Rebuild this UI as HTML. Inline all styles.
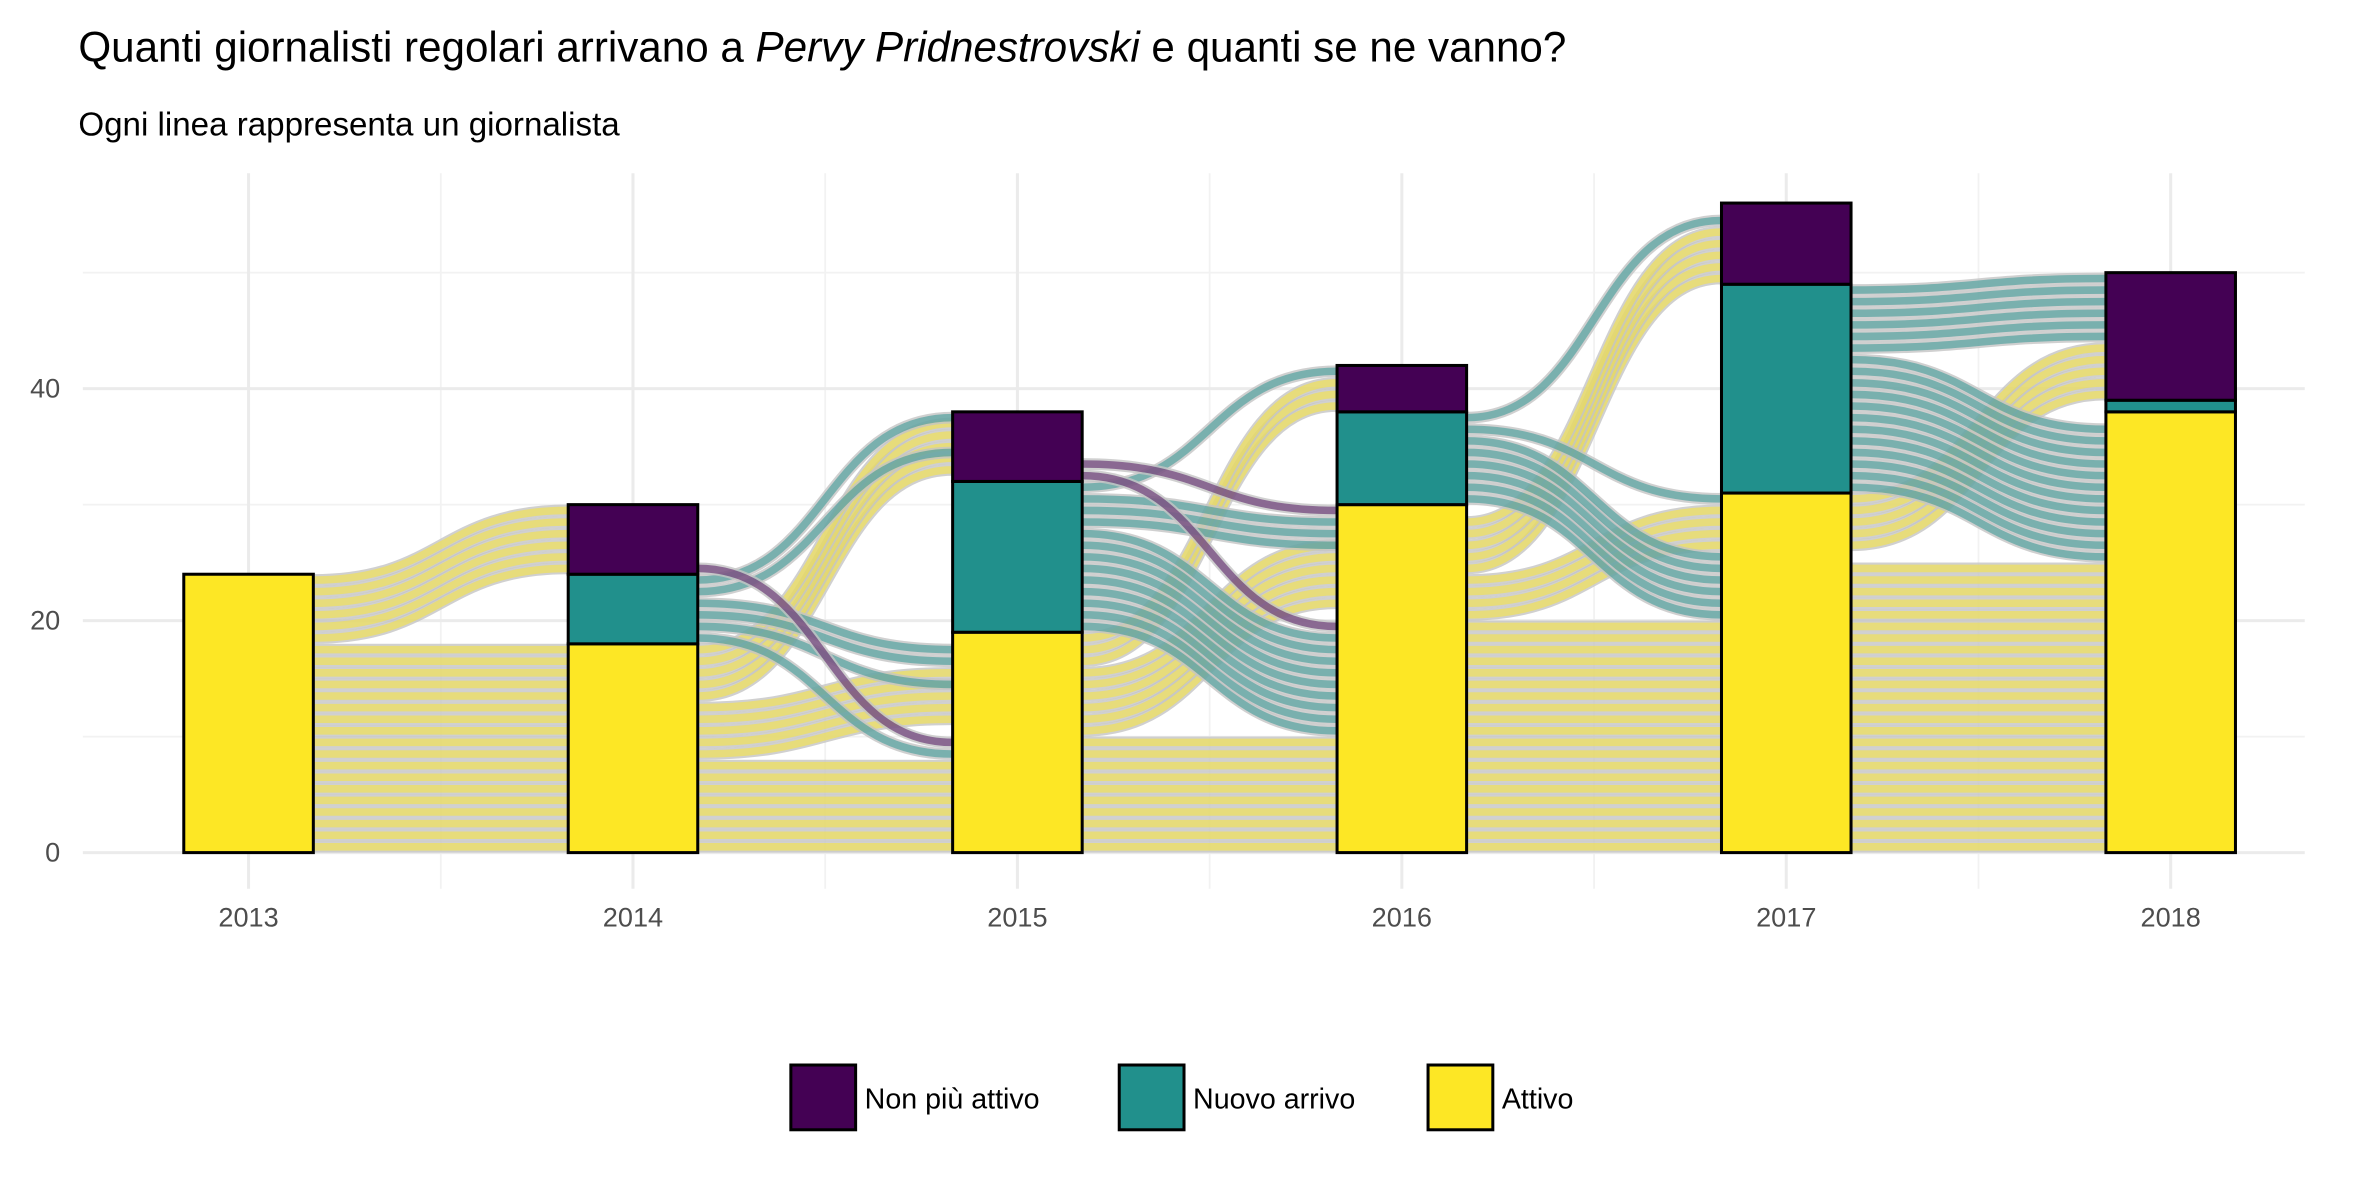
<!DOCTYPE html>
<html><head><meta charset="utf-8">
<style>
html,body{margin:0;padding:0;background:#fff;}
svg{display:block;font-family:"Liberation Sans",sans-serif;}
</style></head>
<body>
<svg id="chart" width="2362" height="1181" viewBox="0 0 1568 784" xmlns="http://www.w3.org/2000/svg">
<rect width="1568" height="784" fill="#fff"/>
<text x="52" y="41" font-size="28" fill="#000">Quanti giornalisti regolari arrivano a <tspan font-style="italic">Pervy Pridnestrovski</tspan> e quanti se ne vanno?</text>
<text x="52" y="90" font-size="22" fill="#000">Ogni linea rappresenta un giornalista</text>
<g id="grid"></g>
<g id="flows"></g>
<g id="bars"></g>
<g id="axes"></g>
<g id="legend">
  <rect x="525" y="707" width="43" height="43" fill="#440154" stroke="#000" stroke-width="2"/>
  <text x="574" y="736" font-size="19" fill="#000">Non più attivo</text>
  <rect x="743" y="707" width="43" height="43" fill="#21908C" stroke="#000" stroke-width="2"/>
  <text x="792" y="736" font-size="19" fill="#000">Nuovo arrivo</text>
  <rect x="948" y="707" width="43" height="43" fill="#FDE725" stroke="#000" stroke-width="2"/>
  <text x="997" y="736" font-size="19" fill="#000">Attivo</text>
</g>
</svg>
<script>
const years = [2013, 2014, 2015, 2016, 2017, 2018];
const attivo = [24, 18, 19, 30, 31, 38];
const nuovo = [0, 6, 13, 8, 18, 1];
const nonPiu = [0, 6, 6, 4, 7, 11];
const yTicks = [0, 20, 40];
const yMinor = [10, 30, 50];
// flows: gap index (from year i to i+1), bottom at source, bottom at destination, number of journalists, colour type
const flowGap   = [0, 0,  1, 1, 1,  1,  1,  1,  1,  1,  1,  2,  2,  2,  2,  2,  2,  2,  2,  3,  3,  3,  3,  3,  3,  4,  4,  4,  4];
const flowFrom  = [0, 18, 0, 8, 13, 23, 22, 20, 19, 18, 24, 0,  10, 16, 19, 28, 31, 32, 33, 0,  24, 20, 30, 36, 37, 0,  26, 43, 31];
const flowTo    = [0, 24, 0, 11, 32.5, 37, 34, 16, 14, 8, 9, 0, 21, 38, 10, 26, 41, 19, 29, 0, 49, 26, 20, 30, 54, 0, 39, 44, 25];
const flowCount = [18, 6, 8, 5, 5,  1,  1,  2,  1,  1,  1,  10, 6,  3,  9,  3,  1,  1,  1,  20, 5,  4,  6,  1,  1,  25, 5,  6,  12];
const flowType  = ['a','a','a','a','a','n','n','n','n','n','p','a','a','a','n','n','n','p','p','a','a','a','n','n','n','a','a','n','n'];

const NS = 'http://www.w3.org/2000/svg';
const colors = {a:'#FDE725', n:'#21908C', p:'#440154'};
const x0 = 165, xStep = 255.2;
const yZero = 566, yUnit = 7.7;
const halfBar = 43;
function xScale(i){ return x0 + i * xStep; }
function yScale(v){ return yZero - v * yUnit; }
function mk(tag, attrs){ const e = document.createElementNS(NS, tag); for (const k in attrs) e.setAttribute(k, attrs[k]); return e; }

const grid = document.getElementById('grid');
yMinor.forEach(v => {
  const l = mk('line', {x1:55, x2:1530, y1:yScale(v), y2:yScale(v), stroke:'#f2f2f2', 'stroke-width':1.2});
  
  
  grid.appendChild(l);
});
for (let i = 0; i < years.length - 1; i++) {
  const xm = (xScale(i) + xScale(i+1)) / 2;
  const l = mk('line', {x1:xm, x2:xm, y1:115, y2:590, stroke:'#f2f2f2', 'stroke-width':1.2});
  
  
  grid.appendChild(l);
}
yTicks.forEach(v => {
  const l = mk('line', {x1:55, x2:1530, y1:yScale(v), y2:yScale(v), stroke:'#ebebeb', 'stroke-width':2});
  
  
  grid.appendChild(l);
});
years.forEach((y, i) => {
  const l = mk('line', {x1:xScale(i), x2:xScale(i), y1:115, y2:590, stroke:'#ebebeb', 'stroke-width':2});
  
  
  grid.appendChild(l);
});

const flowsG = document.getElementById('flows');
for (let f = 0; f < flowGap.length; f++) {
  const g = flowGap[f];
  const xa = xScale(g) + halfBar, xb = xScale(g+1) - halfBar, xm = (xa + xb) / 2;
  for (let k = 0; k < flowCount[f]; k++) {
    const ya = yScale(flowFrom[f] + k + 0.5), yb = yScale(flowTo[f] + k + 0.5);
    const d = `M${xa},${ya} C${xm},${ya} ${xm},${yb} ${xb},${yb}`;
    const outer = mk('path', {d:d, fill:'none', stroke:'#c4c4c4', 'stroke-width':7.8, 'stroke-opacity':0.8});
    
    
    flowsG.appendChild(outer);
    const inner = mk('path', {d:d, fill:'none', stroke:colors[flowType[f]], 'stroke-width':5, 'stroke-opacity':0.5});
    
    
    flowsG.appendChild(inner);
  }
}

const barsG = document.getElementById('bars');
years.forEach((yr, i) => {
  const segs = [[0, attivo[i], colors.a, 'attivo'], [attivo[i], attivo[i] + nuovo[i], colors.n, 'nuovo'], [attivo[i] + nuovo[i], attivo[i] + nuovo[i] + nonPiu[i], colors.p, 'non-piu-attivo']];
  segs.forEach(s => {
    if (s[1] - s[0] <= 0) return;
    const r = mk('rect', {x:xScale(i) - halfBar, y:yScale(s[1]), width:halfBar*2, height:(s[1]-s[0])*yUnit, fill:s[2], stroke:'#000', 'stroke-width':2});
    
    
    barsG.appendChild(r);
  });
});

const axes = document.getElementById('axes');
yTicks.forEach(v => {
  const t = mk('text', {x:40, y:yScale(v) + 6, 'text-anchor':'end', 'font-size':18, fill:'#4d4d4d'});
  t.textContent = v;
  
  
  axes.appendChild(t);
});
years.forEach((y, i) => {
  const t = mk('text', {x:xScale(i), y:615, 'text-anchor':'middle', 'font-size':18, fill:'#4d4d4d'});
  t.textContent = y;
  
  
  axes.appendChild(t);
});
</script>
</body></html>
